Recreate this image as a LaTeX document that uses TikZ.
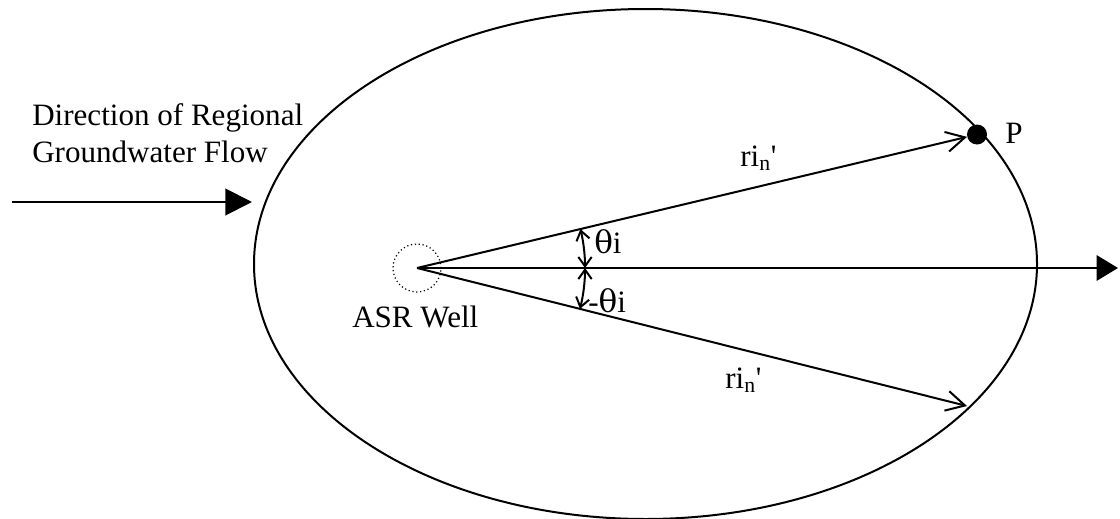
\documentclass[tikz,border=0pt]{standalone}
\usepackage{fontspec}
\setmainfont{Liberation Serif}
\newfontfamily\grkfont{DejaVu Serif}
\usetikzlibrary{arrows.meta,shapes.geometric}
\begin{document}
\begin{tikzpicture}[x=0.75pt,y=-0.75pt,
  lbl/.style={anchor=base west,inner sep=0pt,font=\fontsize{23.3}{28}\selectfont},
  thick line/.style={line width=1.5pt},
  ray/.style={thick line,-{Straight Barb[length=14pt,width=15pt,line width=1.5pt]}},
  angarrow/.style={thick line,{Straight Barb[length=7pt,width=10pt]}-{Straight Barb[length=7pt,width=10pt]}},
  ]
\useasboundingbox (0,0) rectangle (1120,518);
% region ellipse
\node[ellipse,draw,thick line,inner sep=0pt,outer sep=0pt,
      minimum width=587.25pt,minimum height=382.5pt] (region) at (645.5,264) {};
% well
\node[circle,draw,dotted,line width=0.9pt,inner sep=0pt,minimum size=36pt] (well) at (417,268) {};
% point P
\node[circle,fill,inner sep=0pt,minimum size=15pt] (P) at (977,134.5) {};
% coordinates
\coordinate (lowtip) at (967,406);
\coordinate (axisend) at (1118,268);
\coordinate (flowstart) at (12,202);
\coordinate (flowend) at (252,202);
% axis and rays
\draw[thick line,-{Triangle[length=16pt,width=19pt]}] (well.center) -- (axisend);
\draw[ray] (well.center) -- (P);
\draw[ray] (well.center) -- (lowtip);
% flow arrow
\draw[thick line,-{Triangle[length=20pt,width=20pt]}] (flowstart) -- (flowend);
% angle arcs
\draw[angarrow] ([xshift=126pt]well.center) arc[start angle=0,end angle=13.4,radius=126pt];
\draw[angarrow] ([xshift=126pt]well.center) arc[start angle=0,end angle=-14.08,radius=126pt];
% labels
\node[lbl] (dir1) at (32,125) {Direction of Regional};
\node[lbl] (dir2) at (32,162) {Groundwater Flow};
\node[lbl] (lP) at (1005,143) {P};
\node[lbl] (lwell) at (352,327) {ASR Well};
\node[lbl] (th1) at (594,253) {{\grkfont θ}i};
\node[lbl] (th2) at (588,312) {-{\grkfont θ}i};
\node[lbl] (r1) at (740,166) {ri\textsubscript{n}\textquotesingle};
\node[lbl] (r2) at (725,388) {ri\textsubscript{n}\textquotesingle};
\end{tikzpicture}
\end{document}
